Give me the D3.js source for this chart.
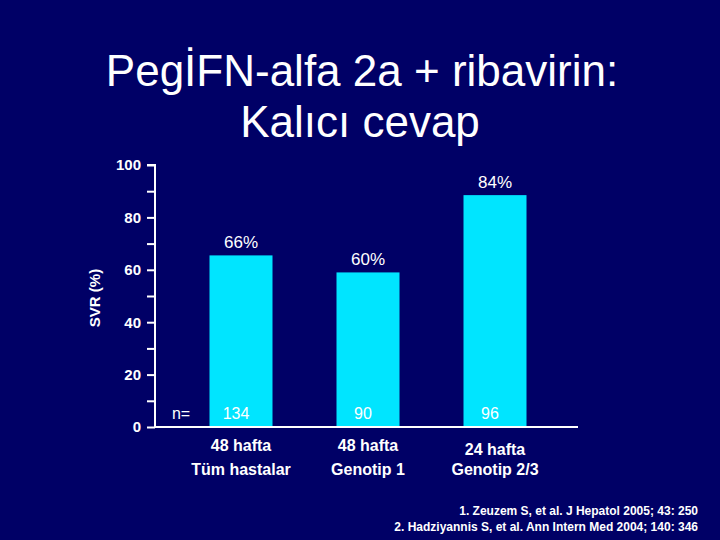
<!DOCTYPE html>
<html><head><meta charset="utf-8">
<script src="https://cdn.jsdelivr.net/npm/d3@7"></script>
<style>body{margin:0;background:#000066}</style>
</head><body>
<script>
// Data
const groups = ['g1', 'g2', 'g3'];
const values = [65.5, 59, 88.5];
const valueLabels = ['66%', '60%', '84%'];
const nLabels = ['134', '90', '96'];
const catLine1 = ['48 hafta', '48 hafta', '24 hafta'];
const catLine2 = ['Tüm hastalar', 'Genotip 1', 'Genotip 2/3'];
const yTicks = [0, 20, 40, 60, 80, 100];
const refs = ['1. Zeuzem S, et al. J Hepatol 2005; 43: 250', '2. Hadziyannis S, et al. Ann Intern Med 2004; 140: 346'];

const svg = d3.select('body').append('svg').attr('width', 720).attr('height', 540)
    .style('font-family', 'Liberation Sans, Arial, sans-serif');
svg.append('rect').attr('width', 720).attr('height', 540).attr('fill', '#000066');

// Title
svg.append('text').attr('x', 362).attr('y', 86).attr('text-anchor', 'middle')
    .attr('fill', 'white').attr('font-size', 44).text('PegİFN-alfa 2a + ribavirin:');
svg.append('text').attr('x', 360).attr('y', 137).attr('text-anchor', 'middle')
    .attr('fill', 'white').attr('font-size', 44).text('Kalıcı cevap');

// Scales
const y = d3.scaleLinear().domain([0, 100]).range([427, 165]);
const x = d3.scalePoint().domain(groups).range([241, 495]);
const barW = 63;

// Axis
const axisG = svg.append('g').attr('transform', 'translate(155,0)');
axisG.call(d3.axisLeft(y).tickValues(yTicks).tickSize(8).tickPadding(6));
axisG.append('g').call(d3.axisLeft(y).tickValues([10, 30, 50, 70, 90]).tickSize(8).tickFormat(''));
axisG.selectAll('path').attr('stroke', 'white').attr('stroke-width', 2);
axisG.selectAll('line').attr('stroke', 'white').attr('stroke-width', 2);
axisG.selectAll('text').attr('fill', 'white').attr('font-size', 15).attr('font-weight', 'bold')
    .attr('font-family', 'Liberation Sans, Arial, sans-serif');
axisG.selectAll('.domain').attr('d', `M-8,${y(100)}H0V${y(0)}`);
svg.append('line').attr('x1', 155).attr('x2', 578).attr('y1', y(0)).attr('y2', y(0))
    .attr('stroke', 'white').attr('stroke-width', 2);

svg.append('text').attr('transform', `translate(100,${(y(0) + y(100)) / 2 + 2}) rotate(-90)`)
    .attr('text-anchor', 'middle').attr('fill', 'white').attr('font-size', 15).attr('font-weight', 'bold')
    .text('SVR (%)');

// Bars
svg.selectAll('.bar').data(groups).join('rect').attr('class', 'bar')
    .attr('x', d => x(d) - barW / 2).attr('width', barW)
    .attr('y', (d, i) => y(values[i])).attr('height', (d, i) => y(0) - y(values[i]) - 1)
    .attr('fill', '#00e5ff');

const txt = (xx, yy, s, size, bold) => svg.append('text').attr('x', xx).attr('y', yy)
    .attr('text-anchor', 'middle').attr('fill', 'white').attr('font-size', size)
    .attr('font-weight', bold ? 'bold' : 'normal').text(s);

groups.forEach((g, i) => {
    const cx = x(g);
    txt(cx, y(values[i]) - 7, valueLabels[i], 17, false);
    txt(cx - 5, 419, nLabels[i], 16, false);
    txt(cx, i === 2 ? 455 : 451, catLine1[i], 16, true);
    txt(cx, 475, catLine2[i], 16, true);
});
txt(181, 419, 'n=', 16, false);

refs.forEach((r, i) => svg.append('text').attr('x', 698).attr('y', 515 + i * 16)
    .attr('text-anchor', 'end').attr('fill', 'white').attr('font-size', 12).attr('font-weight', 'bold').text(r));
</script>
</body></html>
